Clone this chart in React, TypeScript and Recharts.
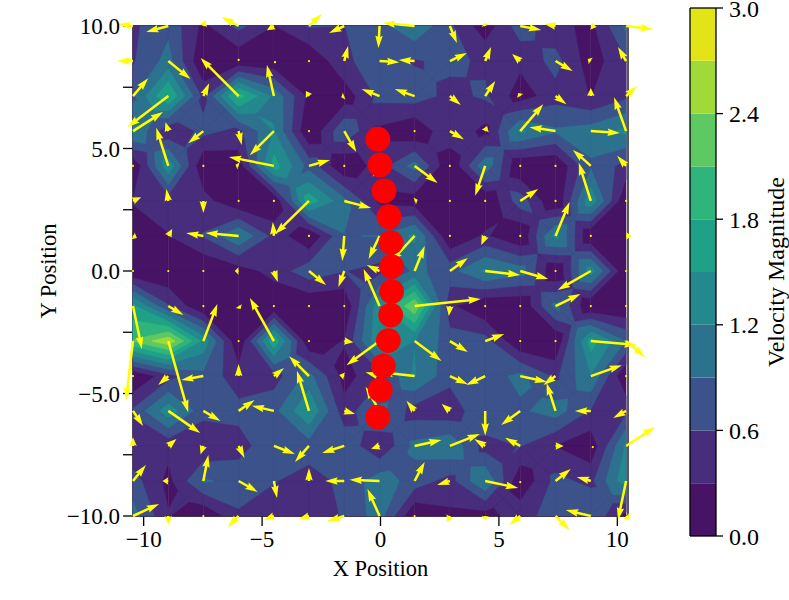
import React from 'react';
import { Bar, BarChart, Scatter, ScatterChart, XAxis, YAxis } from 'recharts';

// grid nodes of the velocity field
const xGrid = [-10.45, -8.96, -7.48, -5.99, -4.5, -3.02, -1.53, -0.04, 1.44, 2.93, 4.42, 5.9, 7.39, 8.88, 10.37];
const yGrid = [10, 8.57, 7.14, 5.71, 4.29, 2.86, 1.43, 0, -1.43, -2.86, -4.29, -5.71, -7.14, -8.57, -10];

// one row per yGrid value, top row first
const uRows = [
  [-0.54, -0.79, 0.07, -0.61, -0.25, 0.46, -0.54, -0.04, -1.14, 0.25, -0.04, 0.75, -0.39, 0.21, 0.96],
  [-0.57, 0.79, 0, 0, 0.04, 0, 0.14, 0.71, -0.57, 0.61, 0.21, -0.29, 0.61, -0.11, -0.29],
  [0.54, -1.46, 0.21, -1.36, -0.25, -0.11, -0.11, -0.64, -0.71, 0.39, 0.36, -0.07, 0.39, 0, 0.39],
  [1.07, -0.1, -0.54, 0.11, -0.86, 0, 0.43, 0.14, 0, 0.5, 0.07, 0.82, -0.93, 1.04, -0.43],
  [0, -0.43, 0, -0.11, -1.61, 0.75, 0, -0.25, 0.82, 0, -0.36, 0, 0, -0.64, -0.32],
  [0.29, -0.07, 0, 0, 0, -1.21, 0.96, 0.1, 0.11, 0, 0, 0.64, 0, -0.43, 0],
  [0.14, 0.14, -0.61, -1.18, -0.04, 0, -0.07, -0.39, -0.86, 0, -0.14, 0, 0.5, 0, 0.21],
  [0, 0, 0, -0.14, 0.14, 0.61, -0.21, -0.46, 0.36, 0.64, 1.25, 1, 0, -1.18, 0],
  [0.32, 0.54, 0, 0.07, 0, 0, 0, -0.57, 2.36, -0.04, 0, 0, 0.89, 0, 0],
  [-0.25, 0.71, 0.5, 0, -0.86, 0, 0.32, -1.18, 0.96, 0.64, 0.68, 0, 0, 1.64, 0.68],
  [0, -0.36, -0.79, 0, 0.36, -0.71, -0.18, -0.5, -1.21, 0.64, -0.68, 0.96, -0.43, 1.11, 0],
  [0.36, 1.14, 0.61, 0.57, -0.79, -0.43, 0.39, -0.5, -0.29, -0.29, 0, -0.68, -0.32, -0.57, -0.46],
  [0, 0.29, -0.1, 0.21, 0.75, -0.5, -0.79, -0.3, 0.96, 1.07, -0.39, -0.54, 0.29, 0.07, 1.04],
  [0.46, -0.21, 0.18, 0.68, 0.11, 0, -0.68, -1.07, 0.36, -0.46, 1.18, 0, 0.54, -0.5, -0.29],
  [0.93, 0, 0, -0.39, -0.36, -0.36, -0.61, -0.43, 0, -0.11, 0, -0.39, 0.5, -0.89, 0.11],
];
const vRows = [
  [0.07, -0.21, 0.21, 0.32, -0.15, 0.43, -0.25, -0.79, 0.11, -0.61, 0.11, -0.14, 0.07, -0.04, -0.11],
  [0, -0.64, 0, 0.04, -0.04, 0, 0.54, -0.04, 0.04, 0.29, 0.5, 0.25, -0.36, 0.07, 0.5],
  [0.64, -1.11, 0.46, 1.36, 1.11, 0.18, -0.04, 0.25, 0.25, -0.32, 0.54, 0.11, -0.29, 0.29, 0.36],
  [0.68, 0.32, -0.43, -0.5, -0.86, 0, -0.75, -0.18, 0, -0.29, 0.18, 0.96, 0.14, -0.07, 1.21],
  [0, 1.36, 0, 0.04, 0.32, 0.21, 0, -0.39, -0.61, 0, -1.07, 0, 0, 0.57, 0.36],
  [0.13, 0.43, -0.43, 0, 0, -1.18, -0.25, 0.2, 0.04, 0, 0, 0.43, 0, 1.36, 0],
  [-0.07, 0.25, 0.11, 0.11, 0.5, 0, -0.89, -0.82, -0.93, 0, -0.32, 0, 1.21, 0, 0],
  [0, 0, 0, 0, -0.39, -0.5, -0.57, 0.21, 0.89, 0.46, -0.14, -0.29, 0, -0.68, 0],
  [-1.54, -0.32, 0, -0.11, 0, 0, 0, 1.32, 0.25, -0.36, 0, 0, 0.43, 0, 0],
  [-2.11, -2.54, 1.32, 0, 1.54, 0, -0.04, -0.86, -0.71, -0.39, 0.25, 0, 0, -0.14, -0.57],
  [0, -0.32, -0.14, 0.43, 0.29, 0.71, 0.04, 0.14, 0.14, -0.29, -0.32, -0.21, -0.32, 0.39, 0],
  [-0.54, -0.79, -0.36, 0.39, 0.18, 1.43, -0.11, 0.86, 0.36, 0.25, -0.89, -0.5, 1, 0, -0.25],
  [0.31, 0.25, -0.3, -0.43, -0.29, -0.57, -0.25, -0.1, 0.21, 0.43, 0.25, 0.29, 0, -0.04, 0.68],
  [0.57, 0, 0.93, -0.39, -0.61, 0.46, 0, 0.04, 0.68, -0.14, -0.25, -0.04, 0.43, 0.14, -1.39],
  [0.43, -0.32, 0, -0.39, -0.14, -0.11, -0.18, 0.96, 0, -0.21, -0.14, -0.32, -0.5, 0.21, -0.11],
];

const dotsX = [-0.11, -0.02, 0.15, 0.36, 0.44, 0.47, 0.47, 0.43, 0.33, 0.12, -0.01, -0.11];
const dotsY = [5.38, 4.33, 3.27, 2.22, 1.16, 0.18, -0.84, -1.8, -2.84, -3.88, -4.86, -5.97];

const levels = [0, 0.3, 0.6, 0.9, 1.2, 1.5, 1.8, 2.1, 2.4, 2.7];
const bandColors = ['#471365', '#472d7b', '#3b528b', '#2c728e', '#23898e', '#1fa188', '#2fb47c', '#5ec962', '#a0da39', '#e2e418'];

const xTicks = [-10, -5, 0, 5, 10];
const yTicks = [-10, -7.5, -5, -2.5, 0, 2.5, 5, 7.5, 10];
const yLabelled = [-10, -5, 0, 5, 10];
const barTicks = [0, 0.6, 1.2, 1.8, 2.4, 3];

const FONT = '"Liberation Serif", serif';
const X_DOMAIN = [-10.45, 10.45];
const Y_DOMAIN = [-10, 10];
const PLOT = { left: 133, top: 26, right: 628, bottom: 516 };
const PX_X = (PLOT.right - PLOT.left) / (X_DOMAIN[1] - X_DOMAIN[0]);
const PX_Y = (PLOT.bottom - PLOT.top) / (Y_DOMAIN[1] - Y_DOMAIN[0]);
const ARROW_SCALE = 28; // px per velocity unit
const SHAFT = 2.5;

const magnitude = (i: number, j: number) => Math.hypot(uRows[j][i], vRows[j][i]);

const arrows = yGrid.flatMap((y, j) => xGrid.map((x, i) => ({ x, y, u: uRows[j][i], v: vRows[j][i] })));
const cells = yGrid.slice(0, -1).flatMap((y, j) => xGrid.slice(0, -1).map((x, i) => ({ x, y, i, j })));
const dots = dotsX.map((x, k) => ({ x, y: dotsY[k] }));
const barRow = [levels.reduce((row: any, lo, k) => ({ ...row, ['b' + k]: 0.3 }), { name: 'scale' })];

// keep the part of a polygon at or above the level, edges interpolated linearly
const clipAbove = (poly: number[][], lo: number) => {
  const out: number[][] = [];
  poly.forEach((a, k) => {
    const b = poly[(k + 1) % poly.length];
    if (a[2] >= lo) out.push(a);
    if (a[2] >= lo !== b[2] >= lo) {
      const t = (lo - a[2]) / (b[2] - a[2]);
      out.push([a[0] + (b[0] - a[0]) * t, a[1] + (b[1] - a[1]) * t, lo]);
    }
  });
  return out;
};

// saddle cells are split through the centre so the diagonal stays resolved by the mean
const cellPolys = (quad: number[][], lo: number) => {
  const hi = quad.map((p) => p[2] >= lo);
  if (hi[0] === hi[2] && hi[1] === hi[3] && hi[0] !== hi[1]) {
    const mid = [0, 1, 2].map((n) => quad.reduce((s, p) => s + p[n], 0) / 4);
    return quad.map((p, k) => clipAbove([p, quad[(k + 1) % 4], mid], lo));
  }
  return [clipAbove(quad, lo)];
};

const ContourCell = (props: any) => {
  const { cx, cy, payload, band } = props;
  const { i, j } = payload;
  const w = (xGrid[i + 1] - xGrid[i]) * PX_X;
  const h = (yGrid[j] - yGrid[j + 1]) * PX_Y;
  const quad = [
    [cx, cy, magnitude(i, j)],
    [cx + w, cy, magnitude(i + 1, j)],
    [cx + w, cy + h, magnitude(i + 1, j + 1)],
    [cx, cy + h, magnitude(i, j + 1)],
  ];
  return (
    <g>
      {cellPolys(quad, levels[band]).map((poly, k) =>
        poly.length < 3 ? null : (
          <polygon
            key={k}
            points={poly.map((p) => `${p[0]},${p[1]}`).join(' ')}
            fill={bandColors[band]}
            stroke={bandColors[band]}
            strokeWidth={0.5}
          />
        ),
      )}
    </g>
  );
};

const Arrow = (props: any) => {
  const { cx, cy, payload } = props;
  const dx = payload.u * ARROW_SCALE;
  const dy = -payload.v * ARROW_SCALE;
  const len = Math.hypot(dx, dy);
  if (len < SHAFT) return <circle cx={cx + dx} cy={cy + dy} r={1.1} fill="#ffff00" />;
  const headLen = SHAFT * 5;
  const headAxis = SHAFT * 4.5;
  const headHalf = SHAFT * 1.5;
  const half = SHAFT / 2;
  // short arrows get squeezed along their length only
  const sx = len < headLen ? len / headLen : 1;
  const L = len < headLen ? headLen : len;
  const pts = [
    [0, -half],
    [L - headAxis, -half],
    [L - headLen, -headHalf],
    [L, 0],
    [L - headLen, headHalf],
    [L - headAxis, half],
    [0, half],
  ];
  const angle = (Math.atan2(dy, dx) * 180) / Math.PI;
  return (
    <polygon
      points={pts.map((p) => `${p[0] * sx},${p[1]}`).join(' ')}
      fill="#ffff00"
      transform={`translate(${cx},${cy}) rotate(${angle})`}
    />
  );
};

const RedDot = (props: any) => <circle cx={props.cx} cy={props.cy} r={12.4} fill="#ff0000" />;

const lineStyle = { stroke: '#000', strokeWidth: 1.3 };
const minus = (s: string) => s.replace('-', '\u2212');

export default function App() {
  return (
    <div style={{ position: 'absolute', left: 0, top: 0, width: 789, height: 600, background: '#fff' }}>
      <div style={{ position: 'absolute', left: 0, top: 0 }}>
        <ScatterChart
          width={670}
          height={600}
          margin={{ left: 0, top: PLOT.top - 1, right: 670 - PLOT.right - 1, bottom: 0 }}
        >
          <XAxis
            type="number"
            dataKey="x"
            domain={X_DOMAIN}
            ticks={xTicks}
            height={600 - PLOT.bottom}
            tickSize={10}
            tickMargin={5}
            axisLine={lineStyle}
            tickLine={lineStyle}
            tick={{ fontFamily: FONT, fontSize: 23, fill: '#000' }}
            tickFormatter={(v: number) => minus(String(v))}
            label={{ value: 'X Position', position: 'insideBottom', offset: 24, style: { fontFamily: FONT, fontSize: 22.5, fill: '#000' } }}
          />
          <XAxis xAxisId="top" orientation="top" type="number" domain={X_DOMAIN} height={1} tick={false} tickLine={false} axisLine={lineStyle} />
          <YAxis
            type="number"
            dataKey="y"
            domain={Y_DOMAIN}
            ticks={yTicks}
            width={PLOT.left}
            interval={0}
            tickSize={10}
            tickMargin={3}
            axisLine={lineStyle}
            tickLine={lineStyle}
            tick={{ fontFamily: FONT, fontSize: 23, fill: '#000' }}
            tickFormatter={(v: number) => (yLabelled.includes(v) ? minus(v.toFixed(1)) : '')}
            label={{ value: 'Y Position', angle: -90, position: 'insideLeft', offset: 48, style: { fontFamily: FONT, fontSize: 22.5, fill: '#000', textAnchor: 'middle' } }}
          />
          <YAxis yAxisId="right" orientation="right" type="number" domain={Y_DOMAIN} width={1} tick={false} tickLine={false} axisLine={lineStyle} />
          {levels.map((_, k) => (
            <Scatter key={k} data={cells} shape={(p: any) => <ContourCell {...p} band={k} />} isAnimationActive={false} />
          ))}
          <Scatter data={arrows} shape={<Arrow />} isAnimationActive={false} />
          <Scatter data={dots} shape={<RedDot />} isAnimationActive={false} />
        </ScatterChart>
      </div>
      <div style={{ position: 'absolute', left: 670, top: 0 }}>
        <BarChart width={119} height={600} data={barRow} barCategoryGap={0} margin={{ left: 19, top: 7, right: 0, bottom: 63 }}>
          <XAxis dataKey="name" height={1} tick={false} tickLine={false} axisLine={lineStyle} />
          <XAxis xAxisId="frameTop" dataKey="name" orientation="top" height={1} tick={false} tickLine={false} axisLine={lineStyle} />
          <YAxis
            orientation="right"
            type="number"
            domain={[0, 3]}
            ticks={barTicks}
            width={73}
            interval={0}
            tickSize={7}
            tickMargin={6}
            axisLine={lineStyle}
            tickLine={lineStyle}
            tick={{ fontFamily: FONT, fontSize: 24, fill: '#000' }}
            tickFormatter={(v: number) => v.toFixed(1)}
            label={{ value: 'Velocity Magnitude', angle: -90, position: 'insideRight', offset: 14, style: { fontFamily: FONT, fontSize: 24, fill: '#000', textAnchor: 'middle' } }}
          />
          <YAxis yAxisId="frameLeft" type="number" domain={[0, 3]} width={1} tick={false} tickLine={false} axisLine={lineStyle} />
          {levels.map((_, k) => (
            <Bar key={k} dataKey={'b' + k} stackId="scale" fill={bandColors[k]} isAnimationActive={false} />
          ))}
        </BarChart>
      </div>
    </div>
  );
}
